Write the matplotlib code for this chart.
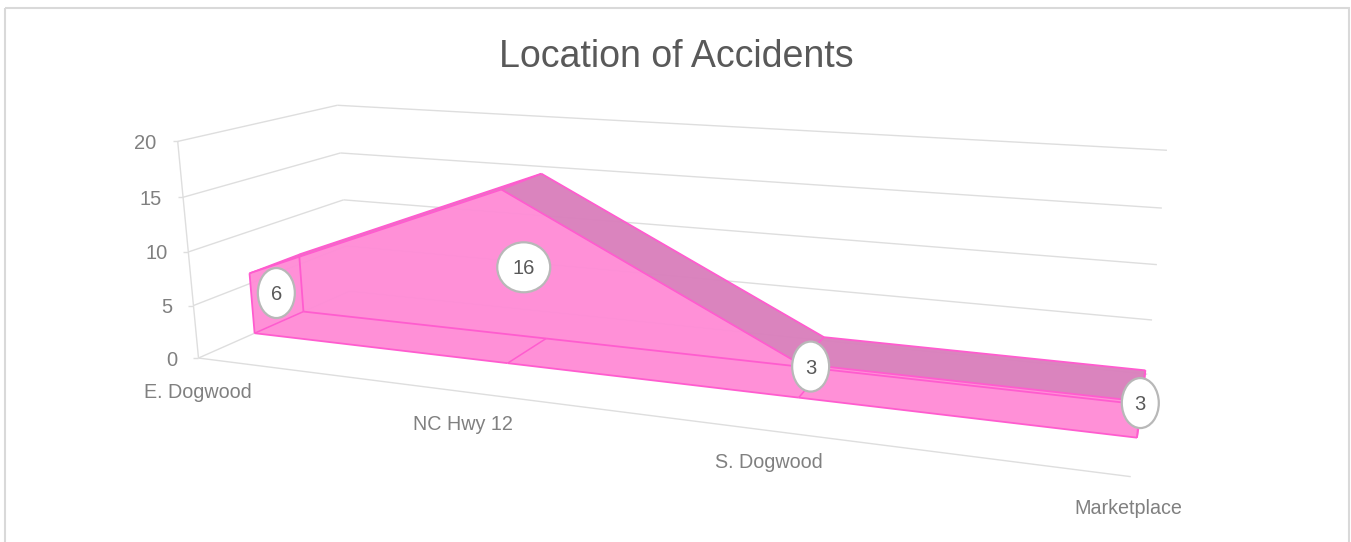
import numpy as np
import matplotlib
matplotlib.use('Agg')
import matplotlib.pyplot as plt
from matplotlib.patches import Polygon, Ellipse, Rectangle

categories = ["E. Dogwood", "NC Hwy 12", "S. Dogwood", "Marketplace"]
accidents = [6, 16, 3, 3]
value_ticks = [0, 5, 10, 15, 20]
title = "Location of Accidents"

PINK = "#ff8cd6"
DARK = "#d97fbc"
EDGE = "#ff5ccf"
GRID = "#dedede"
LABEL = "#808080"

# box corners (x 0-1, value 0-20, depth 0-1) and where they land in the picture
corners3d = [(0, 0, 0), (0, 20, 0), (0, 0, 1), (0, 20, 1), (1, 0, 1), (1, 20, 1), (1, 0, 0)]
corners2d = [(198, 358), (178, 142), (350, 291), (337, 105), (1147, 375), (1167, 150), (1131, 476)]

# depth range of the area inside the box
depth_front = 0.335
depth_back = 0.66


def solve_camera():
    rows = []
    for (x, v, d), (u, w) in zip(corners3d, corners2d):
        rows.append([x, v, d, 1, 0, 0, 0, 0, -u * x, -u * v, -u * d, -u])
        rows.append([0, 0, 0, 0, x, v, d, 1, -w * x, -w * v, -w * d, -w])
    return np.linalg.svd(np.array(rows, dtype=float))[2][-1].reshape(3, 4)


camera = solve_camera()


def project(x, v, d):
    p = camera @ np.array([x, v, d, 1.0])
    return p[0] / p[2], p[1] / p[2]


def line(ax, a, b, color=GRID, lw=1.0, zorder=1):
    ax.plot([a[0], b[0]], [a[1], b[1]], color=color, lw=lw, zorder=zorder, solid_capstyle='butt')


fig = plt.figure(figsize=(13.51, 5.42), dpi=100)
ax = fig.add_axes([0, 0, 1, 1])
ax.set_xlim(0, 1351)
ax.set_ylim(542, 0)
ax.axis('off')

ax.add_patch(Rectangle((5, 8), 1344, 545, fill=False, edgecolor="#d9d9d9", lw=1.5))
ax.text(676.5, 67, title, ha='center', va='baseline', fontsize=27, color="#595959",
        family='Liberation Sans')

# walls and floor
for v in value_ticks:
    line(ax, project(0, v, 0), project(0, v, 1))
    line(ax, project(0, v, 1), project(1, v, 1))
    fx, fy = project(0, v, 0)
    line(ax, (fx - 5, fy), (fx, fy))
    ax.text(fx - 21, fy + 2, str(v), ha='right', va='center', fontsize=14.5, color=LABEL,
            family='Liberation Sans')
line(ax, project(0, 0, 0), project(0, 20, 0))
line(ax, project(0, 0, 0), project(1, 0, 0))

xs = np.linspace(0, 1, len(accidents))

# area, front face first, then the darker top surfaces behind its upper edge
front = [project(x, 0, depth_front) for x in xs]
front += [project(x, v, depth_front) for x, v in zip(xs[::-1], accidents[::-1])]
ax.add_patch(Polygon(front, facecolor=PINK, edgecolor='none', alpha=0.96, zorder=2))

right_cap = [project(1, 0, depth_front), project(1, 0, depth_back),
             project(1, accidents[-1], depth_back), project(1, accidents[-1], depth_front)]
ax.add_patch(Polygon(right_cap, facecolor=PINK, edgecolor='none', alpha=0.96, zorder=2))

for i in range(len(xs) - 1):
    top = [project(xs[i], accidents[i], depth_front), project(xs[i + 1], accidents[i + 1], depth_front),
           project(xs[i + 1], accidents[i + 1], depth_back), project(xs[i], accidents[i], depth_back)]
    ax.add_patch(Polygon(top, facecolor=DARK, edgecolor='none', alpha=0.96, zorder=3))

# outlines of the box
for i in range(len(xs) - 1):
    for d in (depth_front, depth_back):
        line(ax, project(xs[i], accidents[i], d), project(xs[i + 1], accidents[i + 1], d), EDGE, 1.3, 4)
        line(ax, project(xs[i], 0, d), project(xs[i + 1], 0, d), EDGE, 1.3, 4)
for x, v in zip(xs, accidents):
    line(ax, project(x, v, depth_front), project(x, v, depth_back), EDGE, 1.1, 4)
    line(ax, project(x, 0, depth_front), project(x, 0, depth_back), EDGE, 1.1, 4)
for x, v in zip(xs[[0, -1]], [accidents[0], accidents[-1]]):
    for d in (depth_front, depth_back):
        line(ax, project(x, 0, d), project(x, v, d), EDGE, 1.3, 4)

# value labels sit in the middle of the area's depth
depth_mid = (depth_front + depth_back) / 2
for x, v in zip(xs, accidents):
    cx, cy = project(x, v / 2, depth_mid)
    width = 53 if v >= 10 else 37
    ax.add_patch(Ellipse((cx - 1, cy), width, 50, facecolor='white', edgecolor="#b8b8b8", lw=1.6, zorder=5))
    ax.text(cx - 1, cy + 1.5, str(v), ha='center', va='center', fontsize=14.5, color="#595959",
            family='Liberation Sans', zorder=6)

# category labels
label_pos = [(198, 393), (463, 425), (769, 463), (1128, 509)]
for name, (lx, ly) in zip(categories, label_pos):
    ax.text(lx, ly, name, ha='center', va='center', fontsize=14.2, color=LABEL,
            family='Liberation Sans')

fig.savefig("out.png", dpi=100)
